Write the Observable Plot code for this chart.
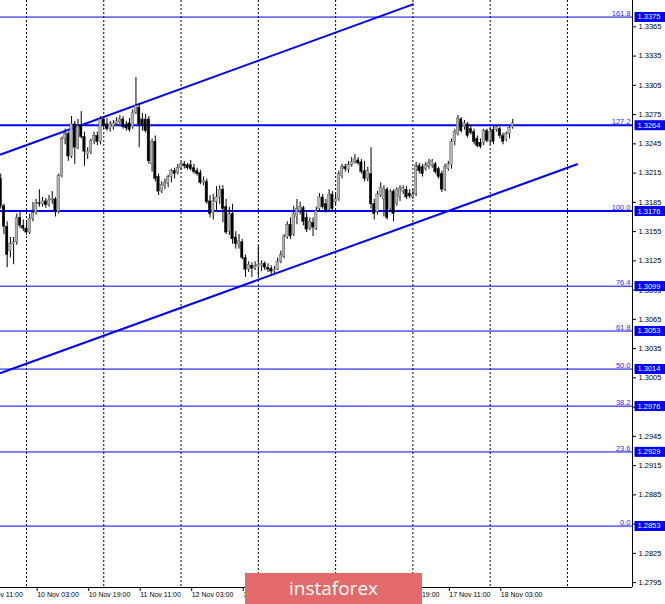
<!DOCTYPE html>
<html><head><meta charset="utf-8">
<script src="https://cdn.jsdelivr.net/npm/d3@7"></script>
<script src="https://cdn.jsdelivr.net/npm/@observablehq/plot@0.6"></script>
<style>
body{margin:0;background:#fff;}
#wrap{position:relative;width:665px;height:604px;overflow:hidden;background:#fff;}
#logo{position:absolute;left:245px;top:573px;width:177px;height:31px;background:#e26a6a;color:#fff;font-family:"Open Sans";font-size:19px;display:flex;align-items:center;justify-content:center;line-height:1;}
</style></head><body>
<div id="wrap"><div id="chart"></div><div id="logo">instaforex</div></div>
<script>
// hourly bars, bar 0 = 10 Nov 00:00 (weekend hours skipped)
const firstBar = -8;
const open = [1.3209,1.3181,1.3160,1.3135,1.3142,1.3144,1.3169,1.3161,
1.3158,1.3154,1.3168,1.3174,1.3184,1.3183,1.3186,1.3182,1.3187,1.3188,1.3175,1.3212,1.3250,1.3255,1.3232,1.3265,1.3241,1.3263,1.3252,1.3234,1.3237,1.3248,1.3253,1.3247,
1.3270,1.3265,1.3260,1.3262,1.3265,1.3267,1.3270,1.3264,1.3266,1.3262,1.3277,1.3282,1.3270,1.3270,1.3270,1.3224,1.3247,1.3211,1.3196,1.3202,1.3204,1.3211,1.3217,1.3215,
1.3220,1.3224,1.3223,1.3223,1.3220,1.3217,1.3215,1.3205,1.3206,1.3186,1.3174,1.3185,1.3190,1.3198,1.3180,1.3155,1.3173,1.3149,1.3141,1.3144,1.3128,1.3116,1.3120,1.3117,
1.3119,1.3120,1.3122,1.3118,1.3117,1.3114,1.3116,1.3124,1.3129,1.3149,1.3162,1.3152,1.3170,1.3176,1.3179,1.3169,1.3158,1.3164,1.3158,1.3178,1.3190,1.3183,1.3177,1.3193,
1.3185,1.3188,1.3212,1.3221,1.3218,1.3223,1.3226,1.3228,1.3226,1.3217,1.3209,1.3214,1.3183,1.3175,1.3192,1.3188,1.3198,1.3178,1.3196,1.3183,1.3190,1.3196,1.3198,1.3194,
1.3190,1.3193,1.3222,1.3221,1.3219,1.3221,1.3222,1.3224,1.3219,1.3214,1.3198,1.3219,1.3223,1.3247,1.3255,1.3270,1.3262,1.3265,1.3260,1.3257,1.3250,1.3246,1.3246,1.3258,
1.3248,1.3259,1.3259,1.3260,1.3253,1.3249,1.3255,1.3262];
const high = [1.3214,1.3183,1.3165,1.3149,1.3149,1.3173,1.3176,1.3167,
1.3165,1.3173,1.3185,1.3188,1.3198,1.3190,1.3189,1.3192,1.3196,1.3190,1.3214,1.3252,1.3260,1.3257,1.3273,1.3268,1.3270,1.3278,1.3257,1.3241,1.3250,1.3257,1.3257,1.3273,
1.3272,1.3271,1.3268,1.3269,1.3272,1.3274,1.3273,1.3268,1.3271,1.3280,1.3313,1.3286,1.3276,1.3275,1.3273,1.3250,1.3253,1.3214,1.3206,1.3209,1.3213,1.3219,1.3220,1.3224,
1.3226,1.3227,1.3225,1.3228,1.3224,1.3220,1.3218,1.3211,1.3209,1.3192,1.3193,1.3201,1.3202,1.3202,1.3188,1.3180,1.3183,1.3155,1.3152,1.3147,1.3131,1.3124,1.3123,1.3124,
1.3140,1.3125,1.3124,1.3122,1.3120,1.3119,1.3128,1.3135,1.3152,1.3165,1.3169,1.3181,1.3188,1.3185,1.3181,1.3174,1.3169,1.3169,1.3180,1.3194,1.3193,1.3188,1.3198,1.3196,
1.3193,1.3217,1.3224,1.3224,1.3227,1.3231,1.3234,1.3231,1.3229,1.3227,1.3221,1.3241,1.3188,1.3196,1.3205,1.3202,1.3200,1.3198,1.3198,1.3200,1.3202,1.3202,1.3201,1.3198,
1.3198,1.3226,1.3225,1.3224,1.3226,1.3229,1.3229,1.3226,1.3221,1.3217,1.3224,1.3227,1.3250,1.3260,1.3274,1.3272,1.3269,1.3267,1.3263,1.3260,1.3253,1.3250,1.3260,1.3260,
1.3262,1.3264,1.3264,1.3262,1.3256,1.3257,1.3263,1.3270];
const low = [1.3178,1.3152,1.3118,1.3128,1.3121,1.3141,1.3158,1.3155,
1.3151,1.3152,1.3165,1.3172,1.3180,1.3180,1.3179,1.3180,1.3183,1.3170,1.3173,1.3210,1.3244,1.3227,1.3230,1.3224,1.3239,1.3250,1.3222,1.3229,1.3234,1.3244,1.3243,1.3244,
1.3260,1.3258,1.3257,1.3259,1.3263,1.3265,1.3260,1.3258,1.3257,1.3260,1.3275,1.3241,1.3258,1.3256,1.3224,1.3216,1.3206,1.3192,1.3194,1.3198,1.3200,1.3205,1.3209,1.3213,
1.3218,1.3219,1.3218,1.3217,1.3214,1.3212,1.3203,1.3202,1.3183,1.3169,1.3167,1.3176,1.3183,1.3164,1.3152,1.3151,1.3142,1.3137,1.3137,1.3126,1.3108,1.3113,1.3108,1.3115,
1.3109,1.3114,1.3115,1.3113,1.3111,1.3112,1.3115,1.3122,1.3127,1.3147,1.3147,1.3150,1.3162,1.3172,1.3161,1.3154,1.3156,1.3150,1.3156,1.3176,1.3178,1.3174,1.3175,1.3175,
1.3182,1.3186,1.3209,1.3216,1.3215,1.3221,1.3224,1.3223,1.3214,1.3206,1.3206,1.3178,1.3167,1.3172,1.3190,1.3170,1.3167,1.3175,1.3165,1.3181,1.3186,1.3193,1.3188,1.3189,
1.3188,1.3191,1.3214,1.3211,1.3217,1.3219,1.3220,1.3214,1.3209,1.3195,1.3196,1.3217,1.3219,1.3243,1.3253,1.3256,1.3259,1.3251,1.3254,1.3244,1.3241,1.3240,1.3243,1.3246,
1.3244,1.3244,1.3257,1.3250,1.3244,1.3247,1.3250,1.3260];
const close = [1.3181,1.3160,1.3131,1.3142,1.3144,1.3169,1.3161,1.3158,
1.3154,1.3168,1.3174,1.3184,1.3183,1.3186,1.3182,1.3187,1.3188,1.3175,1.3212,1.3250,1.3255,1.3232,1.3265,1.3241,1.3263,1.3252,1.3237,1.3237,1.3248,1.3253,1.3247,1.3270,
1.3263,1.3260,1.3265,1.3266,1.3268,1.3270,1.3262,1.3261,1.3259,1.3277,1.3284,1.3265,1.3263,1.3258,1.3227,1.3247,1.3209,1.3196,1.3203,1.3205,1.3211,1.3217,1.3214,1.3220,
1.3224,1.3222,1.3220,1.3219,1.3216,1.3214,1.3205,1.3207,1.3185,1.3173,1.3186,1.3190,1.3198,1.3178,1.3154,1.3173,1.3147,1.3142,1.3145,1.3128,1.3116,1.3121,1.3117,1.3120,
1.3121,1.3122,1.3118,1.3116,1.3114,1.3116,1.3124,1.3131,1.3150,1.3162,1.3150,1.3173,1.3178,1.3180,1.3165,1.3157,1.3165,1.3159,1.3176,1.3190,1.3180,1.3176,1.3193,1.3178,
1.3188,1.3214,1.3221,1.3219,1.3223,1.3226,1.3229,1.3225,1.3216,1.3209,1.3217,1.3183,1.3173,1.3193,1.3200,1.3199,1.3169,1.3196,1.3173,1.3198,1.3199,1.3200,1.3190,1.3191,
1.3193,1.3222,1.3217,1.3214,1.3223,1.3225,1.3227,1.3216,1.3211,1.3198,1.3221,1.3224,1.3247,1.3257,1.3271,1.3258,1.3266,1.3253,1.3256,1.3247,1.3243,1.3242,1.3258,1.3248,
1.3257,1.3247,1.3262,1.3253,1.3247,1.3255,1.3261,1.3266];

const yTicks = [1.2795,1.2825,1.2855,1.2885,1.2915,1.2945,1.2975,1.3005,1.3035,1.3065,1.3095,1.3125,1.3155,1.3185,1.3215,1.3245,1.3275,1.3305,1.3335,1.3365];
const fibLevels = [0.0, 23.6, 38.2, 50.0, 61.8, 76.4, 100.0, 127.2, 161.8];
const fibPrices = [1.2853, 1.2929, 1.2976, 1.3014, 1.3053, 1.3099, 1.3176, 1.3264, 1.3375];
const boldLevels = [100.0, 127.2];
const tickBars = [-13, 3, 19, 35, 51, 67, 83, 99, 115, 131, 147];
const tickLabels = ["9 Nov 11:00","10 Nov 03:00","10 Nov 19:00","11 Nov 11:00","12 Nov 03:00","12 Nov 19:00","13 Nov 11:00","16 Nov 03:00","16 Nov 19:00","17 Nov 11:00","18 Nov 03:00"];
const daySeparators = [0, 24, 48, 72, 96, 120, 144, 168];
const upperChannel = [{bar: -8, price: 1.3234}, {bar: 120, price: 1.3388}];
const lowerChannel = [{bar: -8, price: 1.3010}, {bar: 171, price: 1.3224}];
const xDomain = [-8.07, 188.2];
const yDomain = [1.2790, 1.3392];

const candles = open.map((o, i) => ({bar: firstBar + i, open: o, high: high[i], low: low[i], close: close[i]}));
const fib = fibLevels.map((l, i) => ({level: l, price: fibPrices[i]}));
const BLUE = "#0000ff";

const W = 665, H = 604;
const plot = Plot.plot({
  width: W, height: H, marginTop: 0, marginRight: 33, marginBottom: 17, marginLeft: 0,
  style: {fontFamily: "Liberation Sans", background: "#fff", color: "#000"},
  x: {type: "linear", domain: xDomain, label: null},
  y: {type: "linear", domain: yDomain, label: null},
  marks: [
    Plot.ruleX(daySeparators, {stroke: "#000", strokeDasharray: "2,2", strokeWidth: 1}),
    Plot.ruleY(fib, {y: "price", stroke: BLUE, strokeWidth: d => boldLevels.includes(d.level) ? 2 : 1}),
    Plot.line(upperChannel, {x: "bar", y: "price", stroke: BLUE, strokeWidth: 2}),
    Plot.line(lowerChannel, {x: "bar", y: "price", stroke: BLUE, strokeWidth: 2}),
    Plot.ruleX(candles, {x: "bar", y1: "low", y2: "high", stroke: "#000", strokeWidth: 1}),
    Plot.rect(candles, {x1: d => d.bar - 0.38, x2: d => d.bar + 0.38, y1: "open", y2: "close",
      fill: d => d.close >= d.open ? "#b4b4b4" : "#000", stroke: d => d.close >= d.open ? "#444" : "#000", strokeWidth: 0.4}),
    Plot.text(fib, {y: "price", text: d => d.level.toFixed(1), frameAnchor: "right", textAnchor: "end",
      lineAnchor: "bottom", dx: -2, dy: -1, fill: "#2a2aff", fontSize: 7.5}),
    Plot.ruleX([xDomain[1]], {stroke: "#000"}),
    Plot.ruleY([yDomain[0]], {stroke: "#000"}),
    Plot.axisY({anchor: "right", ticks: yTicks, tickFormat: d3.format(".4f"), tickSize: 3, tickPadding: 3, fontSize: 7.5, label: null}),
    Plot.axisX({ticks: tickBars, tickFormat: d => tickLabels[tickBars.indexOf(d)], tickSize: 4, tickPadding: 1,
      textAnchor: "start", dx: 1, fontSize: 7, label: null}),
    Plot.text(fib, {y: "price", text: d => d.price.toFixed(4), frameAnchor: "right", textAnchor: "start",
      dx: 5, fill: "#fff", fontSize: 7.5, ariaDescription: "price-tags"})
  ]
});
document.getElementById("chart").appendChild(plot);

// blue background boxes behind the price tags on the right axis
const tagGroup = d3.select(plot).select('g[aria-description="price-tags"]');
tagGroup.selectAll("text").each(function() {
  const b = this.getBBox();
  const m = this.getCTM();            // text position inside the svg
  const gm = this.parentNode.getCTM();
  const tx = m.e - gm.e, ty = m.f - gm.f;
  const x0 = tx + b.x - 3;
  d3.select(this.parentNode).insert("rect", () => this)
    .attr("x", x0).attr("y", ty + b.y - 0.5).attr("width", W - x0).attr("height", b.height + 1)
    .attr("fill", BLUE);
});
</script>
</body></html>
